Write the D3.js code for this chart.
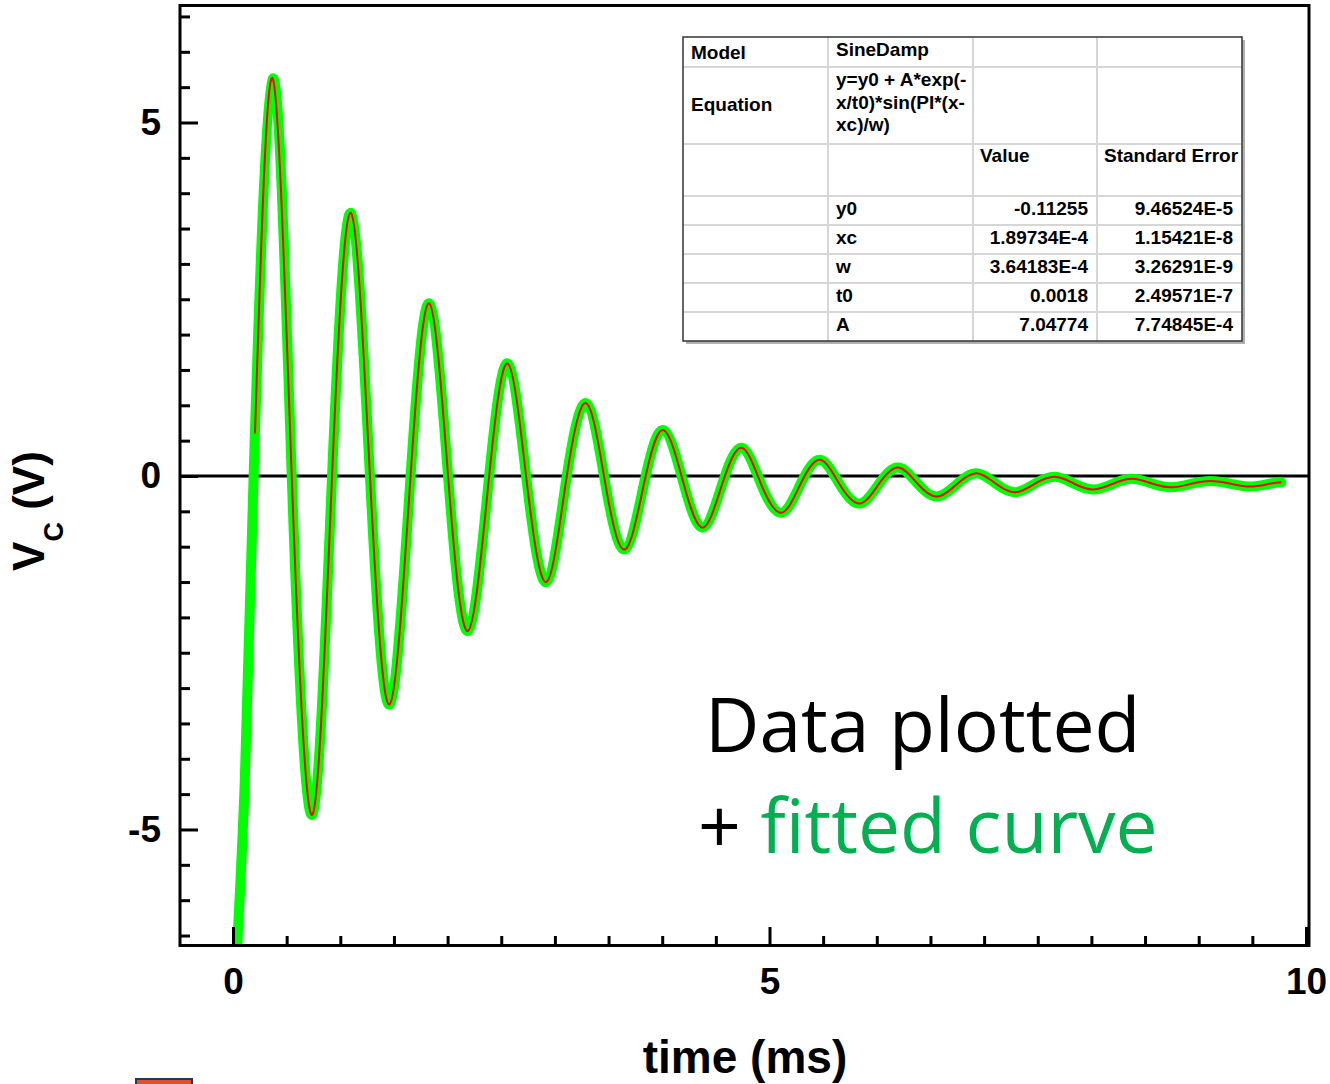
<!DOCTYPE html>
<html>
<head>
<meta charset="utf-8">
<script src="https://cdn.jsdelivr.net/npm/d3@7"></script>
<style>
  body { margin: 0; background: #fff; }
  text { font-family: "Liberation Sans", Arial, sans-serif; }
  text.caption { font-family: "Open Sans", sans-serif; }
</style>
</head>
<body>
<svg id="chart"></svg>
<script>
// trace samples: crossings of the mean level, peaks and troughs
var timeMs = [0.19, 0.37, 0.55, 0.74, 0.92, 1.10, 1.28, 1.46, 1.65, 1.83,
              2.01, 2.19, 2.38, 2.56, 2.74, 2.92, 3.10, 3.29, 3.47, 3.65,
              3.83, 4.01, 4.20, 4.38, 4.56, 4.74, 4.92, 5.11, 5.29, 5.47,
              5.65, 5.84, 6.02, 6.20, 6.38, 6.56, 6.75, 6.93, 7.11, 7.29,
              7.47, 7.66, 7.84, 8.02, 8.20, 8.38, 8.57, 8.75, 8.93, 9.11,
              9.30, 9.48, 9.66, 9.77];
var voltage = [-0.11, 5.62, -0.11, -4.79, -0.11, 3.72, -0.11, -3.23, -0.11, 2.44,
               -0.11, -2.19, -0.11, 1.59, -0.11, -1.50, -0.11, 1.03, -0.11, -1.04,
               -0.11, 0.65, -0.11, -0.73, -0.11, 0.40, -0.11, -0.52, -0.11, 0.23,
               -0.11, -0.39, -0.11, 0.12, -0.11, -0.29, -0.11, 0.04, -0.11, -0.23,
               -0.11, -0.01, -0.11, -0.19, -0.11, -0.04, -0.11, -0.16, -0.11, -0.07,
               -0.11, -0.15, -0.11, -0.09];

// measured trace rises in from below the frame
var dataLeadTime = [0.03, 0.11];
var dataLeadVolt = [-6.9, -4.3];

// fitted curve starts a little later
var fitLeadTime = [0.205];
var fitLeadVolt = [0.6];

var xTickLabels = [0, 5, 10];
var yTickLabels = [-5, 0, 5];

// fit report table
var paramNames = ["y0", "xc", "w", "t0", "A"];
var paramValues = ["-0.11255", "1.89734E-4", "3.64183E-4", "0.0018", "7.04774"];
var paramErrors = ["9.46524E-5", "1.15421E-8", "3.26291E-9", "2.49571E-7", "7.74845E-4"];
var equationLines = ["y=y0 + A*exp(-", "x/t0)*sin(PI*(x-", "xc)/w)"];

var width = 1330, height = 1084;
var plot = {"left": 180, "right": 1309, "top": 5, "bottom": 945};

var svg = d3.select("#chart")
    .attr("width", width)
    .attr("height", height);

var x = d3.scaleLinear()
    .domain([-0.494, 10.028])
    .range([plot.left, plot.right]);
var y = d3.scaleLinear()
    .domain([-6.634, 6.662])
    .range([plot.bottom, plot.top]);

svg.append("defs").append("clipPath")
    .attr("id", "plot-clip")
    .append("rect")
    .attr("x", plot.left)
    .attr("y", plot.top)
    .attr("width", plot.right - plot.left)
    .attr("height", plot.bottom - plot.top);

// zero line
svg.append("line")
    .attr("x1", plot.left).attr("x2", plot.right)
    .attr("y1", y(0)).attr("y2", y(0))
    .attr("stroke", "#000")
    .attr("stroke-width", 3);

var lineFn = d3.line()
    .x(d => x(d[0]))
    .y(d => y(d[1]))
    .curve(d3.curveNatural);

var dataPts = d3.zip(dataLeadTime.concat(timeMs), dataLeadVolt.concat(voltage));
var fitPts = d3.zip(fitLeadTime.concat(timeMs.slice(1)), fitLeadVolt.concat(voltage.slice(1)));

svg.append("path")
    .datum(dataPts)
    .attr("d", lineFn)
    .attr("clip-path", "url(#plot-clip)")
    .attr("fill", "none")
    .attr("stroke", "#00ff00")
    .attr("stroke-width", 10)
    .attr("stroke-linecap", "round")
    .attr("stroke-linejoin", "round");

svg.append("path")
    .datum(fitPts)
    .attr("d", lineFn)
    .attr("fill", "none")
    .attr("stroke", "#ff0000")
    .attr("stroke-width", 2);

// inward ticks, every 0.5
var gy = svg.append("g")
    .attr("transform", "translate(" + plot.left + ",0)")
    .call(d3.axisRight(y).tickValues(d3.range(-6.5, 6.51, 0.5)).tickSize(10).tickFormat(""));
gy.select(".domain").remove();
gy.selectAll(".tick line")
    .attr("stroke-width", 3)
    .attr("x2", d => (d % 5 === 0 ? 18 : 10));

var gx = svg.append("g")
    .attr("transform", "translate(0," + plot.bottom + ")")
    .call(d3.axisTop(x).tickValues(d3.range(0, 10.01, 0.5)).tickSize(9).tickFormat(""));
gx.select(".domain").remove();
gx.selectAll(".tick line")
    .attr("stroke-width", 3)
    .attr("y2", d => (d % 5 === 0 ? -18 : -9));

// frame
svg.append("rect")
    .attr("x", plot.left)
    .attr("y", plot.top + 0.5)
    .attr("width", plot.right - plot.left)
    .attr("height", plot.bottom - plot.top)
    .attr("fill", "none")
    .attr("stroke", "#000")
    .attr("stroke-width", 3);

// tick labels (plain hyphen for negatives)
var ly = svg.append("g")
    .attr("transform", "translate(" + plot.left + ",0)")
    .call(d3.axisLeft(y).tickValues(yTickLabels).tickSize(0).tickPadding(19).tickFormat(d => String(d)));
ly.select(".domain").remove();
ly.selectAll("text")
    .attr("font-size", 37)
    .attr("font-weight", "bold")
    .attr("fill", "#000");

var lx = svg.append("g")
    .attr("transform", "translate(0," + plot.bottom + ")")
    .call(d3.axisBottom(x).tickValues(xTickLabels).tickSize(0).tickPadding(23).tickFormat(d => String(d)));
lx.select(".domain").remove();
lx.selectAll("text")
    .attr("font-size", 37)
    .attr("font-weight", "bold")
    .attr("fill", "#000");

// axis titles
svg.append("text")
    .attr("x", 745)
    .attr("y", 1073)
    .attr("text-anchor", "middle")
    .attr("font-size", 46)
    .attr("font-weight", "bold")
    .text("time (ms)");

var yTitle = svg.append("text")
    .attr("transform", "translate(44,511) rotate(-90)")
    .attr("text-anchor", "middle")
    .attr("font-size", 44)
    .attr("font-weight", "bold");
yTitle.append("tspan").text("V");
yTitle.append("tspan").attr("font-size", 27).attr("dy", 19).text("C");
yTitle.append("tspan").attr("dy", -19).text(" (V)");

// fit report table
var tbl = {"cols": [683, 828, 973, 1097, 1242],
           "rows": [37, 67, 144, 196, 225, 254, 283, 312, 341]};
var tg = svg.append("g").attr("class", "fit-table");

tg.append("rect")
    .attr("x", tbl.cols[0] + 3).attr("y", tbl.rows[0] + 3)
    .attr("width", tbl.cols[4] - tbl.cols[0]).attr("height", tbl.rows[8] - tbl.rows[0])
    .attr("fill", "#b0b0b0");
tg.append("rect")
    .attr("x", tbl.cols[0]).attr("y", tbl.rows[0])
    .attr("width", tbl.cols[4] - tbl.cols[0]).attr("height", tbl.rows[8] - tbl.rows[0])
    .attr("fill", "#fff");

tbl.rows.slice(1, 8).forEach(function(r) {
    tg.append("line")
        .attr("x1", tbl.cols[0]).attr("x2", tbl.cols[4])
        .attr("y1", r).attr("y2", r)
        .attr("stroke", "#d6d6d6").attr("stroke-width", 2);
});
tbl.cols.slice(1, 4).forEach(function(c) {
    tg.append("line")
        .attr("x1", c).attr("x2", c)
        .attr("y1", tbl.rows[0]).attr("y2", tbl.rows[8])
        .attr("stroke", "#d6d6d6").attr("stroke-width", 2);
});
tg.append("rect")
    .attr("x", tbl.cols[0]).attr("y", tbl.rows[0])
    .attr("width", tbl.cols[4] - tbl.cols[0]).attr("height", tbl.rows[8] - tbl.rows[0])
    .attr("fill", "none")
    .attr("stroke", "#333").attr("stroke-width", 1.5);

function cellText(tx, ty, s, anchor) {
    tg.append("text")
        .attr("x", tx).attr("y", ty)
        .attr("text-anchor", anchor || "start")
        .attr("font-size", 19)
        .attr("font-weight", "bold")
        .attr("fill", "#000")
        .text(s);
}

cellText(691, 59, "Model");
cellText(836, 56, "SineDamp");
cellText(691, 111, "Equation");
equationLines.forEach((s, i) => cellText(836, 86 + i * 22.5, s));
cellText(980, 162, "Value");
cellText(1104, 162, "Standard Error");
paramNames.forEach(function(name, i) {
    var by = 215 + i * 29;
    cellText(836, by, name);
    cellText(1088, by, paramValues[i], "end");
    cellText(1233, by, paramErrors[i], "end");
});

// caption
svg.append("text")
    .attr("class", "caption")
    .attr("x", 705).attr("y", 752)
    .attr("font-size", 75)
    .attr("fill", "#000")
    .text("Data plotted");
var cap2 = svg.append("text")
    .attr("class", "caption")
    .attr("x", 698).attr("y", 853)
    .attr("font-size", 75)
    .attr("fill", "#000");
cap2.append("tspan").text("+ ");
cap2.append("tspan").attr("fill", "#00b050").text("fitted curve");

// slide fragment at the lower edge
svg.append("rect")
    .attr("x", 136).attr("y", 1079)
    .attr("width", 56).attr("height", 8)
    .attr("fill", "#e0502a")
    .attr("stroke", "#1f3864").attr("stroke-width", 2);
</script>
</body>
</html>
